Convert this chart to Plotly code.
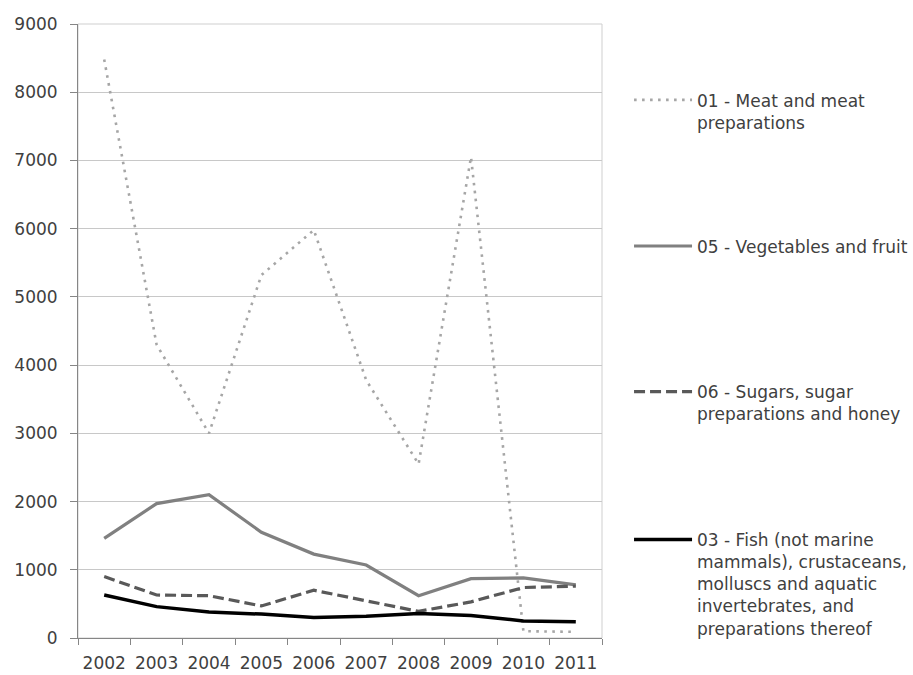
"""
plot.py — food import values 2002–2011, four SITC categories (line chart).
"""
import plotly.graph_objects as go

INK = "#404040"

years = ["2002", "2003", "2004", "2005", "2006", "2007", "2008", "2009", "2010", "2011"]

meat       = [8480, 4300, 3000, 5320, 5980, 3780, 2550, 7050, 100, 90]
vegetables = [1460, 1970, 2100, 1550, 1230, 1070, 620, 870, 880, 780]
sugars     = [900, 630, 620, 470, 700, 540, 390, 530, 740, 760]
fish       = [630, 460, 380, 350, 300, 320, 360, 330, 250, 240]

names = [
    "01 - Meat and meat<br>preparations",
    "05 - Vegetables and fruit",
    "06 - Sugars, sugar<br>preparations and honey",
    "03 - Fish (not marine<br>mammals), crustaceans,<br>molluscs and aquatic<br>"
    "invertebrates, and<br>preparations thereof",
]

# ── styling ──────────────────────────────────────────────────────────────────
series = [
    (meat,       dict(color="#a6a6a6", width=2.6, dash="2.6px,5.4px")),
    (vegetables, dict(color="#808080", width=3.2)),
    (sugars,     dict(color="#595959", width=3.2, dash="11px,5px")),
    (fish,       dict(color="#000000", width=3.5)),
]
legend_ids = ["legend", "legend2", "legend3", "legend4"]
legend_y   = [0.905, 0.667, 0.430, 0.189]   # paper coords, top of each entry

fig = go.Figure()
for (vals, line), name, lg in zip(series, names, legend_ids):
    fig.add_trace(go.Scatter(
        x=years, y=vals, name=name, mode="lines",
        line=line, legend=lg,
        hovertemplate="%{x}: %{y}<extra></extra>",
    ))

legend_common = dict(
    x=1.0516, xanchor="left", yanchor="top",
    bgcolor="rgba(0,0,0,0)", borderwidth=0,
    valign="top", itemwidth=58,
    font=dict(family="DejaVu Sans", size=17, color=INK),
)

fig.update_layout(
    width=913, height=675,
    margin=dict(l=78, r=311, t=24, b=37, autoexpand=False),
    plot_bgcolor="white", paper_bgcolor="white",
    font=dict(family="DejaVu Sans", size=17, color=INK),
    showlegend=True,
    **{lg: dict(y=y, **legend_common) for lg, y in zip(legend_ids, legend_y)},
    xaxis=dict(
        type="category", range=[-0.5, 9.5], automargin=False,
        tickangle=0, tickfont=dict(size=17),
        tickson="boundaries", ticks="outside", ticklen=6,
        tickcolor="#868686", showline=True, linecolor="#868686", linewidth=1,
        showgrid=False, zeroline=False, ticklabelstandoff=10,
    ),
    yaxis=dict(
        range=[0, 9000], dtick=1000, automargin=False,
        ticks="outside", ticklen=7, tickcolor="#868686",
        showline=True, linecolor="#868686", linewidth=1,
        gridcolor="#c8c8c8", gridwidth=1, zeroline=False,
        ticklabelstandoff=9,
    ),
    shapes=[dict(
        type="rect", xref="paper", yref="paper", x0=0, x1=1, y0=0, y1=1,
        line=dict(color="#cfcfcf", width=1), layer="below",
    )],
)

# page body has an 8px default margin; drop it so the figure fills the window
fig.write_html(
    "out.html",
    config={"displayModeBar": False},
    post_script="document.body.style.margin = '0';",
)
